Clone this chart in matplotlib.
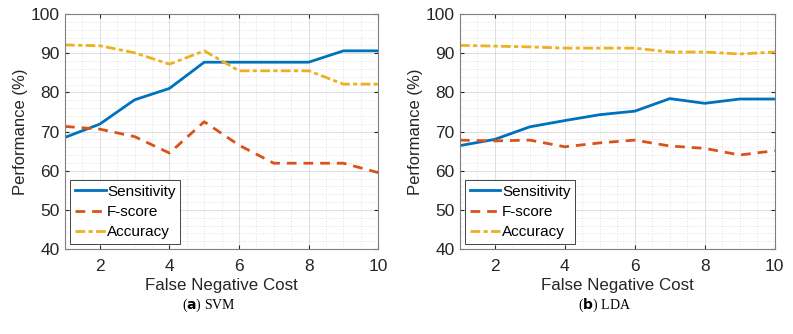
#!/usr/bin/env python3

import matplotlib.pyplot as plt
from matplotlib.ticker import MultipleLocator

cost = [1, 2, 3, 4, 5, 6, 7, 8, 9, 10]

svm_sensitivity = [68.5, 71.9, 78.1, 81.0, 87.7, 87.7, 87.7, 87.7, 90.6, 90.6]
svm_fscore = [71.3, 70.6, 68.7, 64.5, 72.5, 66.5, 61.9, 61.9, 61.9, 59.5]
svm_accuracy = [92.1, 91.9, 90.1, 87.2, 90.6, 85.5, 85.5, 85.5, 82.1, 82.1]

lda_sensitivity = [66.4, 68.0, 71.2, 72.8, 74.3, 75.2, 78.4, 77.2, 78.3, 78.3]
lda_fscore = [67.8, 67.6, 67.8, 66.1, 67.1, 67.8, 66.3, 65.7, 64.0, 65.1]
lda_accuracy = [92.0, 91.8, 91.6, 91.3, 91.3, 91.3, 90.3, 90.3, 89.8, 90.3]

series_labels = ["Sensitivity", "F-score", "Accuracy"]
captions = [("a", " SVM"), ("b", " LDA")]

colors = ["#0072BD", "#D95319", "#EDB120"]
styles = ["-", (0, (3.5, 2.5)), (0, (3.5, 1.2, 1.5, 1.2))]

plt.rcParams["font.family"] = ["Liberation Sans", "DejaVu Sans"]

fig = plt.figure(figsize=(7.93, 3.34), dpi=100)
ax_left = fig.add_axes([0.082, 0.2545, 0.395, 0.7035])
ax_right = fig.add_axes([0.580, 0.2545, 0.397, 0.7035])

panels = [
    (ax_left, [svm_sensitivity, svm_fscore, svm_accuracy]),
    (ax_right, [lda_sensitivity, lda_fscore, lda_accuracy]),
]

for (ax, data), (letter, name) in zip(panels, captions):
    for values, label, color, style in zip(data, series_labels, colors, styles):
        ax.plot(cost, values, color=color, linestyle=style, linewidth=2.0, label=label)
    ax.set_xlim(1, 10)
    ax.set_ylim(40, 100)
    ax.xaxis.set_major_locator(MultipleLocator(2))
    ax.yaxis.set_major_locator(MultipleLocator(10))
    ax.xaxis.set_minor_locator(MultipleLocator(0.5))
    ax.yaxis.set_minor_locator(MultipleLocator(2))
    ax.grid(True, which="major", color="#d9d9d9", linewidth=0.6)
    ax.grid(True, which="minor", color="#d9d9d9", linestyle=(0, (1, 2)), linewidth=0.6)
    ax.set_axisbelow(True)
    ax.tick_params(which="both", direction="in", top=True, right=True, colors="#262626",
                   labelsize=12.5, length=3)
    ax.tick_params(axis="x", pad=7)
    ax.tick_params(axis="y", pad=4)
    ax.tick_params(which="minor", length=0)
    for spine in ax.spines.values():
        spine.set_color("#7f7f7f")
        spine.set_linewidth(0.8)
    ax.set_xlabel("False Negative Cost", fontsize=12.2, color="#262626", labelpad=3)
    ax.set_ylabel("Performance (%)", fontsize=12, color="#262626", labelpad=2)
    legend = ax.legend(loc="lower left", fontsize=11, frameon=True, fancybox=False,
                       handlelength=2.0, handletextpad=0.1, borderpad=0.3,
                       labelspacing=0.4, borderaxespad=0.35)
    legend.get_frame().set_edgecolor("#262626")
    legend.get_frame().set_linewidth(0.6)
    legend.get_frame().set_alpha(1)
    bbox = ax.get_position()
    cx = (bbox.x0 + bbox.x1) / 2 - 0.016
    fig.text(cx, 0.085, f"($\\mathbf{{{letter}}}$){name}", ha="center", va="center",
             fontsize=10, family="Liberation Serif")

fig.savefig("out.png", dpi=100)
